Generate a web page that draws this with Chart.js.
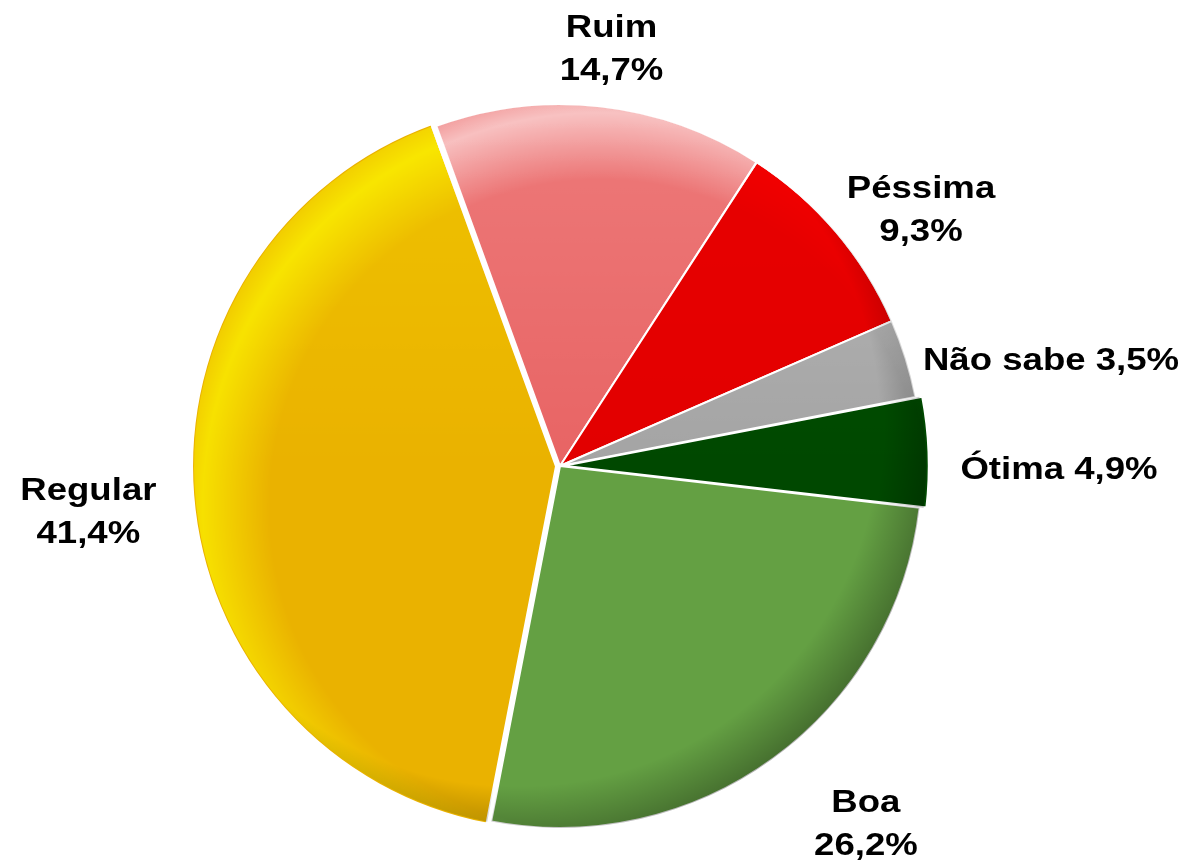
<!DOCTYPE html>
<html>
<head>
<meta charset="utf-8">
<script src="https://cdn.jsdelivr.net/npm/chart.js@4.4.0/dist/chart.umd.min.js"></script>
<style>
  html, body { margin: 0; padding: 0; background: #fff; }
  #wrap { width: 1188px; height: 868px; }
</style>
</head>
<body>
<div id="wrap"><canvas id="pie"></canvas></div>
<script>
// avaliação - percentual por resposta
const categories = ['Ruim', 'Péssima', 'Não sabe', 'Ótima', 'Boa', 'Regular'];
const shares = [14.7, 9.3, 3.5, 4.9, 26.2, 41.4];
const sliceColors = ['#e86464', '#e20000', '#a4a4a4', '#004800', '#64a043', '#eab200'];

// slices whose label sits on one line
const oneLineLabels = ['Não sabe', 'Ótima'];

// rim light and shadow so the pie looks domed
const domeShade = {
    id: 'domeShade',
    afterDatasetsDraw(chart) {
        const ctx = chart.ctx;
        const arcs = chart.getDatasetMeta(0).data;
        arcs.forEach(arc => {
            const cx = arc.x, cy = arc.y, r = arc.outerRadius;
            const off = (arc.options.offset || 0) / 4;
            const mid = (arc.startAngle + arc.endAngle) / 2;
            const box = [cx - r - 10, cy - r - 10, 2 * r + 20, 2 * r + 20];
            ctx.save();
            ctx.translate(Math.cos(mid) * off, Math.sin(mid) * off);
            ctx.beginPath();
            ctx.moveTo(cx, cy);
            ctx.arc(cx, cy, r, arc.startAngle, arc.endAngle);
            ctx.closePath();
            ctx.clip();

            // soft light from the top
            ctx.globalCompositeOperation = 'overlay';
            let g = ctx.createLinearGradient(0, cy - r, 0, cy);
            g.addColorStop(0, 'rgba(255,255,255,0.22)');
            g.addColorStop(1, 'rgba(255,255,255,0)');
            ctx.fillStyle = g;
            ctx.fillRect(...box);

            // bright rim on the upper left
            const s = 40;
            g = ctx.createRadialGradient(cx + s, cy + s, 0, cx + s, cy + s, r + s * 1.41);
            g.addColorStop(0, 'rgba(255,255,255,0)');
            g.addColorStop(0.78, 'rgba(255,255,255,0)');
            g.addColorStop(0.94, 'rgba(255,255,255,0.6)');
            g.addColorStop(1, 'rgba(255,255,255,0.25)');
            ctx.fillStyle = g;
            ctx.fillRect(...box);

            // darker rim on the lower right
            ctx.globalCompositeOperation = 'source-over';
            g = ctx.createRadialGradient(cx - s, cy - s, 0, cx - s, cy - s, r + s * 1.41);
            g.addColorStop(0, 'rgba(0,0,0,0)');
            g.addColorStop(0.86, 'rgba(0,0,0,0)');
            g.addColorStop(1, 'rgba(0,0,0,0.3)');
            ctx.fillStyle = g;
            ctx.fillRect(...box);
            ctx.restore();
        });
    }
};

// category + percentage outside each slice
const outsideLabels = {
    id: 'outsideLabels',
    afterDraw(chart, args, opts) {
        const ctx = chart.ctx;
        const arcs = chart.getDatasetMeta(0).data;
        const values = chart.data.datasets[0].data;
        ctx.save();
        ctx.font = 'bold 31px "Liberation Sans", Arial, sans-serif';
        ctx.fillStyle = '#000';
        ctx.textAlign = 'center';
        ctx.textBaseline = 'middle';
        arcs.forEach((arc, i) => {
            const name = chart.data.labels[i];
            const pct = values[i].toFixed(1).replace('.', ',') + '%';
            const lines = opts.oneLine.includes(name) ? [name + ' ' + pct] : [name, pct];
            const mid = (arc.startAngle + arc.endAngle) / 2 + opts.turn[i] * Math.PI / 180;
            const off = (arc.options.offset || 0) / 4;
            const d = arc.outerRadius + off + opts.dist[i];
            const bx = arc.x + Math.cos(mid) * d;
            const by = arc.y + Math.sin(mid) * d;
            lines.forEach((l, k) => {
                ctx.save();
                ctx.translate(bx, by + (k - (lines.length - 1) / 2) * opts.lineHeight);
                ctx.scale(opts.stretch, 1);
                ctx.fillText(l, 0, 0);
                ctx.restore();
            });
        });
        ctx.restore();
    }
};

new Chart(document.getElementById('pie'), {
    type: 'pie',
    data: {
        labels: categories,
        datasets: [{
            data: shares,
            backgroundColor: sliceColors,
            borderColor: '#ffffff',
            borderWidth: 2,
            offset: [0, 0, 0, 16, 0, 16]
        }]
    },
    options: {
        responsive: true,
        maintainAspectRatio: false,
        animation: false,
        rotation: -20,
        radius: 362,
        layout: { padding: { left: 0, right: 68, top: 64, bottom: 0 } },
        plugins: {
            legend: { display: false },
            tooltip: { enabled: false },
            outsideLabels: {
                oneLine: oneLineLabels,
                lineHeight: 43,
                stretch: 1.18,
                dist: [57, 80, 140, 133, 110, 108],
                turn: [0.6, 5.1, 5.3, 2.7, -4.2, -1.2]
            }
        }
    },
    plugins: [domeShade, outsideLabels]
});
</script>
</body>
</html>
